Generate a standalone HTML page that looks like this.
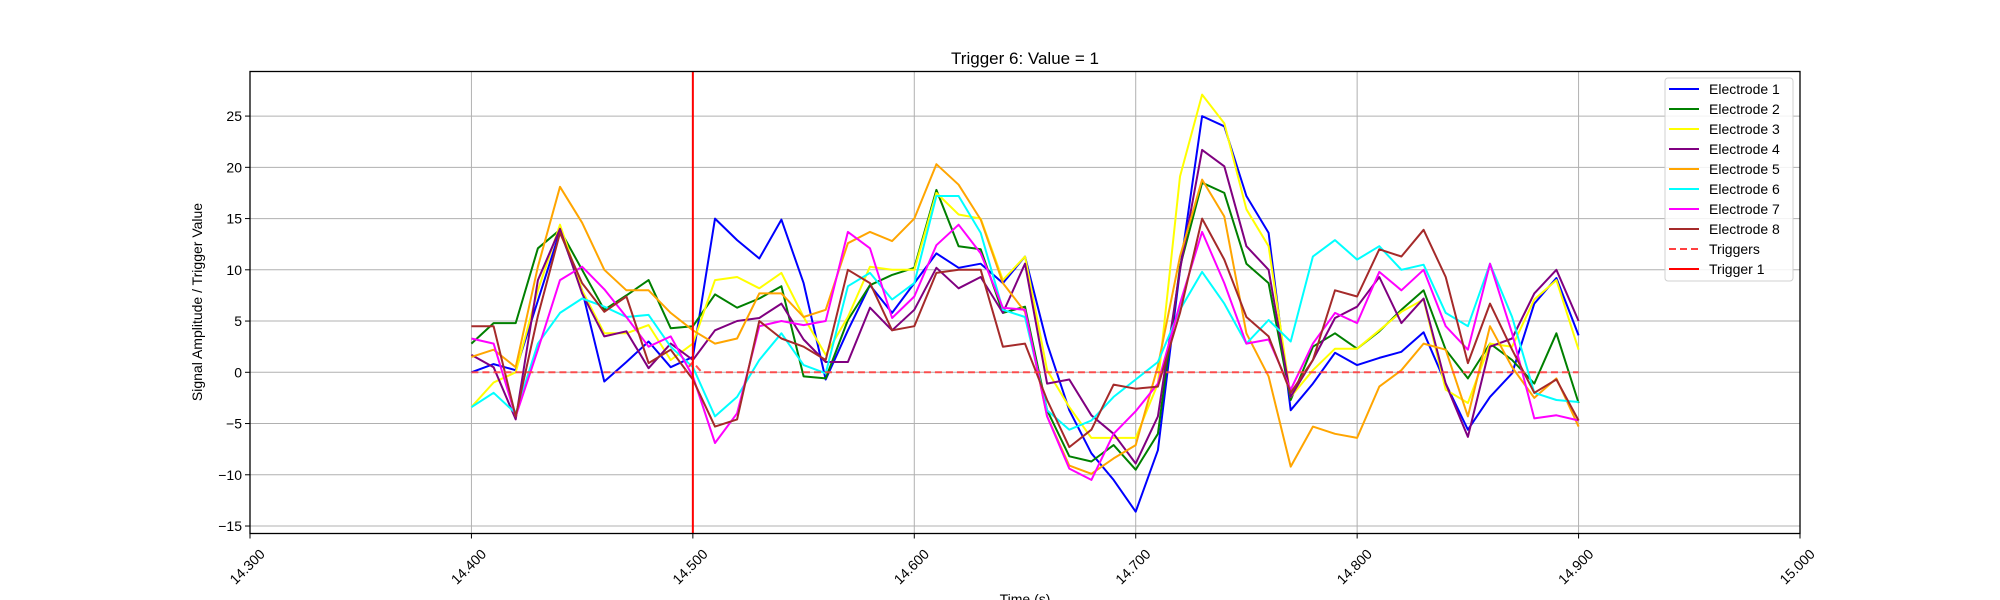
<!DOCTYPE html>
<html><head><meta charset="utf-8"><style>
body{margin:0;background:#fff;}
svg{display:block;font-family:"Liberation Sans","DejaVu Sans",sans-serif;}
</style></head><body>
<svg id="chart" width="2000" height="600" viewBox="0 0 2000 600">
<rect width="2000" height="600" fill="#fff"/>
<text x="1025" y="64" font-size="17" text-anchor="middle">Trigger 6: Value = 1</text>
<g id="grid"></g>
<g id="series"></g>
<rect x="250" y="71.5" width="1550" height="462" fill="none" stroke="#000" stroke-width="1.3"/>
<g id="axes"></g>
<text x="1025" y="604" font-size="14" text-anchor="middle">Time (s)</text>
<text transform="translate(202,302) rotate(-90)" font-size="14" text-anchor="middle">Signal Amplitude / Trigger Value</text>
<g id="legend"></g>
</svg>
<script>
const times = [];
for (let i = 0; i <= 50; i++) times.push(14.4 + i * 0.01);
const e1 = [0,0.8,0.2,7,13.8,8,-0.9,1,3,0.5,1.5, 15,12.9,11.1,14.9,8.7,-0.7,4.1,8.5,5.8,8.7, 11.6,10.2,10.6,8.7,11.3,2.8,-3.7,-7.9,-10.5,-13.6, -7.6,10,25,24,17.2,13.6,-3.7,-1.1,1.9,0.7, 1.4,2.0,3.9,-1.1,-5.6,-2.4,-0.1,6.7,9.2,3.6];
const e2 = [2.8,4.8,4.8,12.1,13.9,10,6.1,7.5,9,4.3,4.5, 7.6,6.3,7.2,8.4,-0.4,-0.6,5.1,8.5,9.5,10.2, 17.8,12.3,12,5.8,6.4,-3.7,-8.2,-8.7,-7.1,-9.5, -6,10.3,18.5,17.5,10.6,8.7,-2.7,2.5,3.8,2.3, 4,6.1,8,2.2,-0.6,2.8,1.2,-1.1,3.8,-3];
const e3 = [-3.4,-1,0,8,14.4,8,3.8,3.8,4.6,1.2,2.8, 9,9.3,8.2,9.7,5.4,1.7,5.4,10.3,10,10, 17.5,15.4,15,9,11.3,0.2,-3.4,-6.4,-6.4,-6.4, -1.1,19.1,27.1,24.3,15.9,12.3,-2.4,0.2,2.3,2.3, 4.1,5.9,7.1,-1.7,-3,2.8,2.5,7.1,9,2.2];
const e4 = [1.7,0.5,-4.6,9,14,7.7,3.5,4,0.4,2.8,1.2, 4.1,5,5.3,6.7,3.2,1,1,6.3,4.1,6.1, 10.2,8.2,9.3,5.8,10.6,-1.1,-0.7,-4.2,-6,-8.9, -4.3,10,21.7,20.1,12.3,10,-2.4,1.2,5.3,6.4, 9.3,4.8,7.2,-1.1,-6.3,2.5,3.3,7.7,10,5];
const e5 = [1.5,2.2,0.5,10.3,18.1,14.6,10,8,8,5.8,4.1, 2.8,3.3,7.7,7.7,5.4,6.1,12.6,13.7,12.8,15, 20.3,18.3,14.9,8.7,5.9,-4.3,-9.1,-9.9,-8.4,-7.1, 0.6,11.3,18.8,15.2,3.8,-0.4,-9.2,-5.3,-6,-6.4, -1.4,0.2,2.8,2.2,-4.3,4.5,0.5,-2.5,-0.6,-5.3];
const e6 = [-3.4,-2,-4,2.8,5.8,7.2,6.4,5.4,5.6,2.5,0.5, -4.3,-2.4,1.2,3.8,0.7,-0.1,8.4,9.7,7.1,8.7, 17.2,17.2,13.6,6.1,5.4,-3.7,-5.6,-4.7,-2.4,-0.7, 1,6.1,9.8,6.7,2.8,5.1,3,11.3,12.9,11, 12.3,10,10.5,5.8,4.5,10.6,5.4,-2,-2.7,-2.9];
const e7 = [3.3,2.8,-4.3,2.2,9,10.3,8.1,5.4,2.5,3.5,-0.4, -6.9,-4,4.5,5,4.6,5,13.7,12.1,5.3,7.4, 12.4,14.4,11.6,6.3,6.1,-4.3,-9.4,-10.5,-6,-3.8, -1.1,6.7,13.7,8.7,2.8,3.2,-1.7,2.8,5.8,4.8, 9.8,8,10,4.5,2.2,10.6,3.8,-4.5,-4.2,-4.7];
const e8 = [4.5,4.5,-4.3,5.5,13.6,8.7,5.9,7.4,0.9,2.2,-0.7, -5.3,-4.6,5,3.3,2.5,1.2,10,8.7,4.1,4.5, 9.7,10,10,2.5,2.8,-2.7,-7.3,-5.6,-1.2,-1.6, -1.4,5.8,15,11,5.4,3.5,-2,1.2,8,7.4, 12,11.3,13.9,9.3,0.9,6.7,2.2,-2,-0.7,-4.7];
const triggerTimes = [14.4, 14.496, 14.5, 14.504, 14.9];
const triggerValues = [0, 0, 1, 0, 0];
const trigger1Time = 14.5;
const xTicks = [14.3,14.4,14.5,14.6,14.7,14.8,14.9,15.0];
const xTickLabels = ["14.300","14.400","14.500","14.600","14.700","14.800","14.900","15.000"];
const yTicks = [-15,-10,-5,0,5,10,15,20,25];
const yTickLabels = ["\u221215","\u221210","\u22125","0","5","10","15","20","25"];
const seriesNames = ["Electrode 1","Electrode 2","Electrode 3","Electrode 4","Electrode 5","Electrode 6","Electrode 7","Electrode 8"];

const NS = "http://www.w3.org/2000/svg";
const X0 = 250, X1 = 1800, Y0 = 71.5, Y1 = 533.5;
const xMin = 14.3, xMax = 15.0, yMin = -15.73, yMax = 29.35;
function xs(t){ return X0 + (t - xMin) / (xMax - xMin) * (X1 - X0); }
function ys(v){ return Y1 - (v - yMin) / (yMax - yMin) * (Y1 - Y0); }
function mk(tag, attrs, parent){ const e = document.createElementNS(NS, tag); for (const k in attrs) e.setAttribute(k, attrs[k]); parent.appendChild(e); return e; }

const grid = document.getElementById('grid');
const axes = document.getElementById('axes');
xTicks.forEach((t, i) => {
  const x = xs(t);
  const g = mk('line', {x1:x, x2:x, y1:Y0, y2:Y1, stroke:'#b0b0b0', 'stroke-width':1}, grid);
  
  
  mk('line', {x1:x, x2:x, y1:Y1, y2:Y1+5, stroke:'#000', 'stroke-width':1}, axes);
  const tx = mk('text', {transform:`translate(${x-2},${Y1+34}) rotate(-45)`, 'font-size':14, 'text-anchor':'middle', 'dominant-baseline':'middle'}, axes);
  tx.textContent = xTickLabels[i];
  
  
});
yTicks.forEach((v, i) => {
  const y = ys(v);
  const g = mk('line', {x1:X0, x2:X1, y1:y, y2:y, stroke:'#b0b0b0', 'stroke-width':1}, grid);
  
  
  mk('line', {x1:X0-5, x2:X0, y1:y, y2:y, stroke:'#000', 'stroke-width':1}, axes);
  const tx = mk('text', {x:X0-8, y:y+5, 'font-size':14, 'text-anchor':'end'}, axes);
  tx.textContent = yTickLabels[i];
  
  
});

const colors = ['#0000ff','#008000','#ffff00','#800080','#ffa500','#00ffff','#ff00ff','#a52a2a'];
const data = [e1,e2,e3,e4,e5,e6,e7,e8];
const sg = document.getElementById('series');
data.forEach((arr, s) => {
  const d = arr.map((v, i) => (i ? 'L' : 'M') + xs(times[i]).toFixed(1) + ',' + ys(v).toFixed(1)).join('');
  const p = mk('path', {d, fill:'none', stroke:colors[s], 'stroke-width':2, 'stroke-linejoin':'round'}, sg);
  
  
});
const td = triggerValues.map((v, i) => (i ? 'L' : 'M') + xs(triggerTimes[i]).toFixed(1) + ',' + ys(v).toFixed(1)).join('');
const tp = mk('path', {d:td, fill:'none', stroke:'#ff4040', 'stroke-width':2, 'stroke-dasharray':'7,4', opacity:0.9}, sg);


const vl = mk('line', {x1:xs(trigger1Time), x2:xs(trigger1Time), y1:Y0, y2:Y1, stroke:'#ff0000', 'stroke-width':2}, sg);



const lg = document.getElementById('legend');
mk('rect', {x:1665, y:78, width:128, height:203, rx:3, fill:'#fff', 'fill-opacity':0.85, stroke:'#d0d0d0', 'stroke-width':1}, lg);
const legendLabels = seriesNames.concat(['Triggers','Trigger 1']);
const legendColors = colors.concat(['#ff4040','#ff0000']);
legendLabels.forEach((lab, i) => {
  const y = 89 + i * 20;
  const ln = mk('line', {x1:1669, x2:1699, y1:y, y2:y, stroke:legendColors[i], 'stroke-width':2}, lg);
  if (i === 8) ln.setAttribute('stroke-dasharray', '7,4');
  const t = mk('text', {x:1709, y:y+5, 'font-size':14}, lg);
  t.textContent = lab;
  
  
});
</script>
</body></html>
